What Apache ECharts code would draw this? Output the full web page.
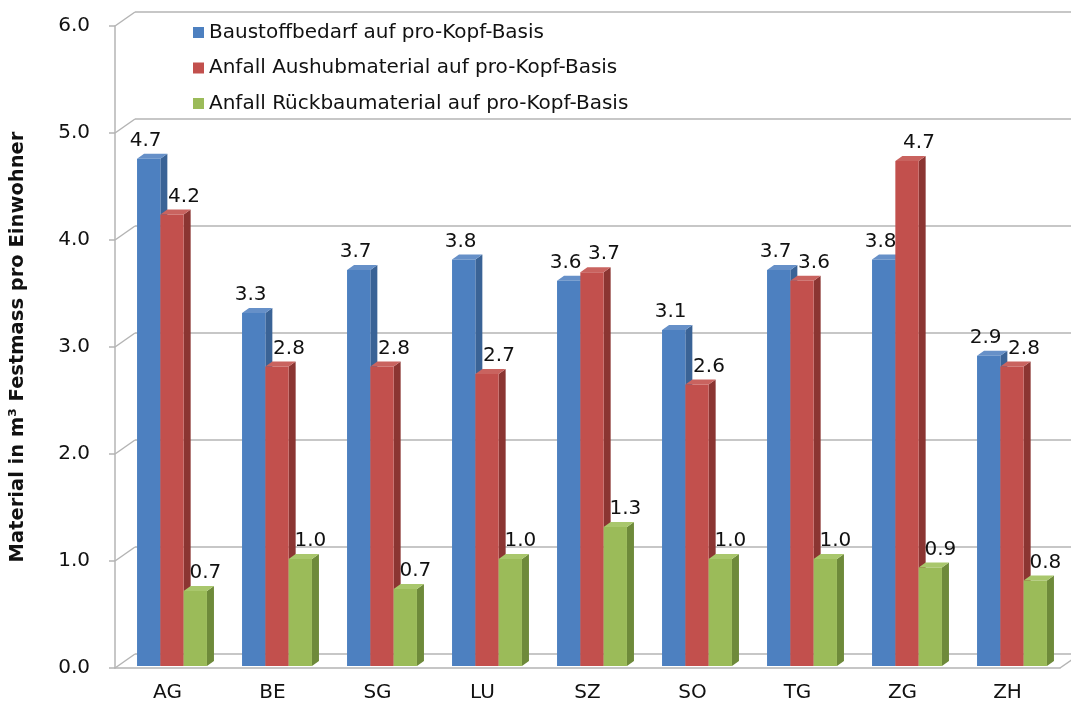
<!DOCTYPE html>
<html>
<head>
<meta charset="utf-8">
<script src="https://cdn.jsdelivr.net/npm/echarts@6/dist/echarts.min.js"></script>
<style>
  html, body { margin: 0; padding: 0; background: #fff; }
  #chart { width: 1071px; height: 709px; }
</style>
</head>
<body>
<div id="chart"></div>
<script>
"use strict";

var categories = ['AG', 'BE', 'SG', 'LU', 'SZ', 'SO', 'TG', 'ZG', 'ZH'];
var baustoff = [4.74, 3.3, 3.7, 3.8, 3.6, 3.14, 3.7, 3.8, 2.9];
var aushub = [4.22, 2.8, 2.8, 2.73, 3.68, 2.63, 3.6, 4.72, 2.8];
var rueckbau = [0.7, 1.0, 0.72, 1.0, 1.3, 1.0, 1.0, 0.92, 0.8];
var yTicks = [0, 1, 2, 3, 4, 5, 6];

var seriesNames = [
	'Baustoffbedarf auf pro-Kopf-Basis',
	'Anfall Aushubmaterial auf pro-Kopf-Basis',
	'Anfall Rückbaumaterial auf pro-Kopf-Basis'
];

// front, side, top shades
var shades = [
	['#4d80c0', '#3a6396', '#6690c8'],
	['#c2504d', '#8b3532', '#c9635f'],
	['#9bbb59', '#6e8a3a', '#a9c76c']
];
var labelShift = [-3, 12, 10];

var FONT = '"DejaVu Sans", sans-serif';
var WALL_DX = 20, WALL_DY = -14;   // depth of the 3d frame
var BAR_DX = 7, BAR_DY = -5;       // depth of a bar
var GRID_LINE = '#b4b4b4';

var myChart = echarts.init(document.getElementById('chart'));

function makeBarRender(idx) {
	return function(params, api) {
		var v = api.value(1);
		var top = api.coord([api.value(0), v]);
		var base = api.coord([api.value(0), 0]);
		var band = api.size([1, 0])[0];
		var w = band * 0.222;
		var cx = top[0] + 4.5;
		var x0 = cx - 1.5 * w + idx * w;
		var yt = top[1] - 2;
		var yb = base[1] - 2;
		var c = shades[idx];
		return {
			type: 'group',
			children: [{
				type: 'polygon',
				shape: { points: [[x0 + w, yb], [x0 + w + BAR_DX, yb + BAR_DY], [x0 + w + BAR_DX, yt + BAR_DY], [x0 + w, yt]] },
				style: { fill: c[1] }
			}, {
				type: 'polygon',
				shape: { points: [[x0, yt], [x0 + BAR_DX, yt + BAR_DY], [x0 + w + BAR_DX, yt + BAR_DY], [x0 + w, yt]] },
				style: { fill: c[2] }
			}, {
				type: 'rect',
				shape: { x: x0, y: yt, width: w, height: yb - yt },
				style: { fill: c[0] }
			}, {
				type: 'text',
				x: x0 + w / 2 + labelShift[idx],
				y: yt - 18,
				style: {
					text: v.toFixed(1),
					fill: '#111',
					font: '20px ' + FONT,
					align: 'center',
					verticalAlign: 'middle'
				}
			}]
		};
	};
}

function toData(arr) {
	var out = [];
	for (var i = 0; i < arr.length; i++) {
		out.push([i, arr[i]]);
	}
	return out;
}

// diagonal edges joining the front axis with the back wall
function renderWallEdges(params, api) {
	var cs = params.coordSys;
	var y = api.coord([0, api.value(1)])[1];
	var children = [{
		type: 'line',
		shape: { x1: cs.x, y1: y, x2: cs.x + WALL_DX, y2: y + WALL_DY },
		style: { stroke: GRID_LINE, lineWidth: 1.5 }
	}];
	if (api.value(1) === 0) {
		children.push({
			type: 'line',
			shape: { x1: cs.x + cs.width, y1: y, x2: cs.x + cs.width + WALL_DX, y2: y + WALL_DY },
			style: { stroke: GRID_LINE, lineWidth: 1.5 }
		});
	}
	return { type: 'group', children: children };
}

var option = {
	animation: false,
	backgroundColor: '#fff',
	color: [shades[0][0], shades[1][0], shades[2][0]],
	legend: {
		data: seriesNames,
		orient: 'vertical',
		left: 188,
		top: 17,
		icon: 'rect',
		itemWidth: 11,
		itemHeight: 11,
		itemGap: 14.5,
		textStyle: { fontFamily: FONT, fontSize: 20, color: '#111', lineHeight: 21 }
	},
	grid: [{
		left: 115,
		right: 11,
		top: 26,
		bottom: 41
	}, {
		left: 115 + WALL_DX,
		right: 0,
		top: 26 + WALL_DY,
		bottom: 41 - WALL_DY
	}],
	xAxis: [{
		type: 'category',
		gridIndex: 0,
		data: categories,
		axisLine: { lineStyle: { color: GRID_LINE, width: 1.5 } },
		axisTick: { show: false },
		axisLabel: { fontFamily: FONT, fontSize: 20, color: '#111', margin: 15 }
	}, {
		type: 'value',
		gridIndex: 1,
		min: 0,
		max: 1,
		show: false
	}],
	yAxis: [{
		type: 'value',
		gridIndex: 0,
		min: 0,
		max: 6,
		interval: 1,
		name: 'Material in m³ Festmass pro Einwohner',
		nameLocation: 'middle',
		nameGap: 87,
		nameTextStyle: { fontFamily: FONT, fontSize: 19.5, fontWeight: 'bold', color: '#111' },
		axisLine: { show: true, lineStyle: { color: GRID_LINE, width: 1.5 } },
		axisTick: { show: true, length: 6, lineStyle: { color: GRID_LINE, width: 1.5 } },
		axisLabel: {
			fontFamily: FONT, fontSize: 20, color: '#111', margin: 25,
			formatter: function(v) { return v.toFixed(1); }
		},
		splitLine: { show: false }
	}, {
		type: 'value',
		gridIndex: 1,
		min: 0,
		max: 6,
		interval: 1,
		axisLine: { show: false },
		axisTick: { show: false },
		axisLabel: { show: false },
		splitLine: { show: true, lineStyle: { color: GRID_LINE, width: 1.5 } }
	}],
	series: [{
		type: 'custom',
		name: 'edges',
		xAxisIndex: 0,
		yAxisIndex: 0,
		silent: true,
		clip: false,
		renderItem: renderWallEdges,
		data: yTicks.map(function(t) { return [0, t]; }),
		z: 1
	}, {
		type: 'custom',
		name: seriesNames[0],
		xAxisIndex: 0,
		yAxisIndex: 0,
		itemStyle: { color: shades[0][0] },
		renderItem: makeBarRender(0),
		data: toData(baustoff),
		z: 3
	}, {
		type: 'custom',
		name: seriesNames[1],
		xAxisIndex: 0,
		yAxisIndex: 0,
		itemStyle: { color: shades[1][0] },
		renderItem: makeBarRender(1),
		data: toData(aushub),
		z: 4
	}, {
		type: 'custom',
		name: seriesNames[2],
		xAxisIndex: 0,
		yAxisIndex: 0,
		itemStyle: { color: shades[2][0] },
		renderItem: makeBarRender(2),
		data: toData(rueckbau),
		z: 5
	}]
};

myChart.setOption(option);
</script>
</body>
</html>
